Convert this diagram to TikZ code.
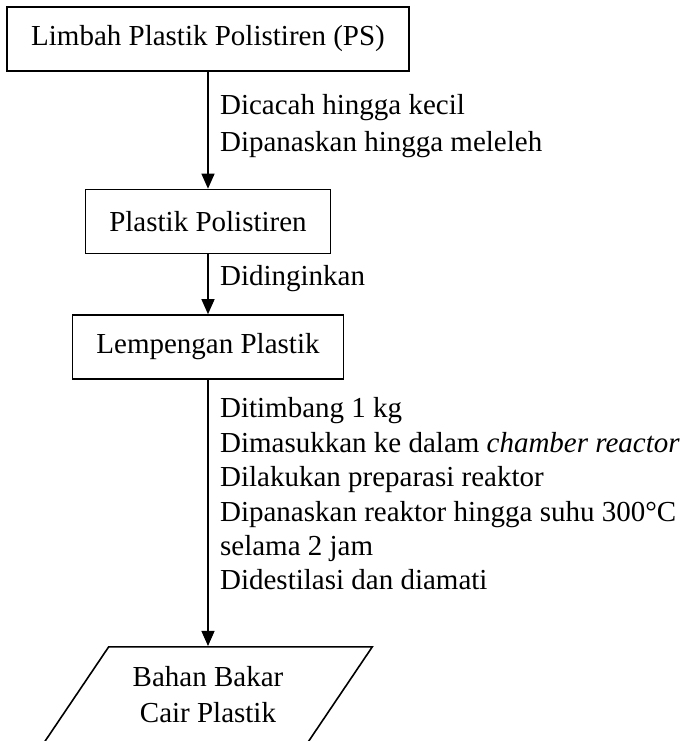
\documentclass[tikz,border=0pt]{standalone}
\usepackage{fontspec}
\setmainfont{Liberation Serif}
\usetikzlibrary{positioning,shapes.geometric,arrows.meta}

\begin{document}
\begin{tikzpicture}[x=1pt,y=1pt,on grid,auto,
    every node/.style={font=\fontsize{29}{36}\selectfont},
    process/.style={draw,line width=1.6pt,rectangle,inner xsep=24pt,minimum height=64pt},
    output/.style={draw,line width=1.6pt,trapezium,trapezium left angle=56,
      trapezium right angle=124,align=center,inner xsep=24pt,inner ysep=20pt},
    flow/.style={-{Triangle[length=15pt,width=13pt]},line width=1.2pt},
    steplabel/.style={align=left,inner xsep=11.5pt}]
   \useasboundingbox (0,0) rectangle (689,-741);
   \node[process] (waste) at (208,-39) {Limbah Plastik Polistiren (PS)};
   \node[process] (melt) [below=182.5pt of waste] {Plastik Polistiren};
   \node[process] (sheet) [below=125.5pt of melt] {Lempengan Plastik};
   \node[output] (fuel) [below=348pt of sheet] {Bahan Bakar\\Cair Plastik};
    \path[flow]
    (waste) edge node[steplabel,yshift=3.75pt,font=\fontsize{29}{37}\selectfont]
      {Dicacah hingga kecil\\Dipanaskan hingga meleleh} (melt)
    (melt) edge node[steplabel,yshift=5.75pt] {Didinginkan} (sheet)
    (sheet) edge node[steplabel,yshift=18.9pt,font=\fontsize{29}{34.4}\selectfont]
      {Ditimbang 1 kg\\Dimasukkan ke dalam \textit{chamber reactor}\\
      Dilakukan preparasi reaktor\\Dipanaskan reaktor hingga suhu 300\textdegree C\\
      selama 2 jam\\Didestilasi dan diamati} (fuel);

\end{tikzpicture}
\end{document}
